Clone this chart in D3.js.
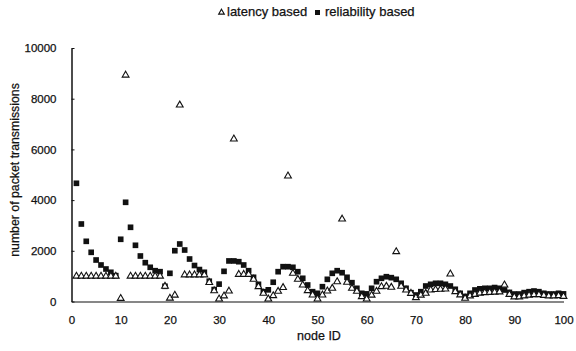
<!DOCTYPE html>
<html>
<head>
<meta charset="utf-8">
<script src="https://cdn.jsdelivr.net/npm/d3@7"></script>
<style>
  body { margin: 0; background: #fff; }
  text { font-family: "Liberation Sans", Arial, sans-serif; fill: #111; stroke: #111; stroke-width: 0.25; }
</style>
</head>
<body>
<svg id="chart" width="576" height="351"></svg>
<script>
// node ids 1..100
const nodeIds = d3.range(1, 101);

const latency = [
  1000, 1000, 1000, 1000, 1000, 1000, 1000, 1000, 1000, 120,
  8930, 1000, 1000, 1000, 1000, 1000, 1000, 1000, 600, 130,
  250, 7750, 1050, 1050, 1050, 1050, 1050, 750, 420, 100,
  220, 410, 6410, 1070, 1070, 1070, 875, 584, 323, 100,
  230, 400, 550, 4950, 1110, 875, 650, 426, 256, 100,
  256, 414, 520, 780, 3250, 757, 520, 400, 190, 100,
  250, 400, 584, 600, 560, 1965, 600, 450, 320, 150,
  250, 323, 454, 470, 480, 490, 1085, 387, 260, 126,
  220, 280, 330, 350, 360, 370, 380, 650, 280, 180,
  180, 220, 250, 270, 270, 240, 220, 220, 230, 200
];

const reliability = [
  4663, 3057, 2374, 1940, 1637, 1440, 1282, 1152, 1020, 2454,
  3913, 2927, 2217, 1795, 1531, 1349, 1215, 1176, 600, 1112,
  2004, 2268, 2031, 1676, 1420, 1260, 1152, 800, 470, 685,
  1190, 1600, 1600, 1570, 1440, 1215, 955, 678, 387, 460,
  760, 1176, 1373, 1373, 1349, 1176, 915, 651, 387, 323,
  584, 875, 1112, 1215, 1136, 955, 742, 520, 323, 300,
  520, 781, 915, 978, 940, 875, 718, 520, 347, 256,
  387, 611, 678, 718, 718, 678, 611, 481, 323, 200,
  323, 454, 500, 520, 520, 550, 520, 454, 360, 295,
  295, 350, 387, 414, 387, 323, 295, 295, 323, 300
];

const xTicks = [0, 10, 20, 30, 40, 50, 60, 70, 80, 90, 100];
const yTicks = [0, 2000, 4000, 6000, 8000, 10000];

const svg = d3.select("#chart");

const x = d3.scaleLinear().domain([0, 100]).range([71.5, 563.5]);
const y = d3.scaleLinear().domain([0, 10000]).range([301.5, 48]);

// axes
svg.append("g")
  .attr("transform", "translate(0," + y(0) + ")")
  .call(d3.axisBottom(x).tickValues(xTicks).tickSize(0).tickPadding(14))
  .call(g => g.select(".domain").attr("stroke", "#111").attr("stroke-width", 1.2))
  .call(g => g.selectAll("text").attr("font-size", 11.5).attr("fill", "#111")
    .attr("font-family", "Liberation Sans, Arial, sans-serif"));

svg.append("g")
  .attr("transform", "translate(" + x(0) + ",0)")
  .call(d3.axisLeft(y).tickValues(yTicks).tickFormat(d3.format("d"))
    .tickSizeInner(-3).tickSizeOuter(0).tickPadding(15))
  .call(g => g.select(".domain").attr("stroke", "#111").attr("stroke-width", 1.5))
  .call(g => g.selectAll("line").attr("stroke", "#111"))
  .call(g => g.selectAll("text").attr("font-size", 11.5).attr("fill", "#111")
    .attr("font-family", "Liberation Sans, Arial, sans-serif"));

// axis titles
svg.append("text")
  .attr("x", 319).attr("y", 340)
  .attr("text-anchor", "middle")
  .attr("font-size", 12.5)
  .text("node ID");

svg.append("text")
  .attr("transform", "translate(19,170) rotate(-90)")
  .attr("text-anchor", "middle")
  .attr("font-size", 12.3)
  .text("number of packet transmissions");

const square = d3.symbol(d3.symbolSquare, 32);
const triangle = d3.symbol(d3.symbolTriangle, 20);

// reliability based (squares) first, triangles drawn over them
svg.append("g").selectAll("path")
  .data(nodeIds)
  .join("path")
  .attr("d", square)
  .attr("transform", (d, i) => "translate(" + x(d) + "," + y(reliability[i]) + ")")
  .attr("fill", "#111");

svg.append("g").selectAll("path")
  .data(nodeIds)
  .join("path")
  .attr("d", triangle)
  .attr("transform", (d, i) => "translate(" + x(d) + "," + y(latency[i]) + ")")
  .attr("fill", "#fff")
  .attr("stroke", "#111")
  .attr("stroke-width", 1.1);

// legend
const legend = svg.append("g").attr("transform", "translate(221.5,12)");
legend.append("path").attr("d", d3.symbol(d3.symbolTriangle, 14)).attr("transform", "translate(0,0.5)")
  .attr("fill", "#fff").attr("stroke", "#111").attr("stroke-width", 1.1);
legend.append("text").attr("x", 5.5).attr("y", 4).attr("font-size", 13).text("latency based");
legend.append("path").attr("d", d3.symbol(d3.symbolSquare, 25)).attr("transform", "translate(96,0.5)")
  .attr("fill", "#111");
legend.append("text").attr("x", 103.5).attr("y", 4).attr("font-size", 13).text("reliability based");
</script>
</body>
</html>
